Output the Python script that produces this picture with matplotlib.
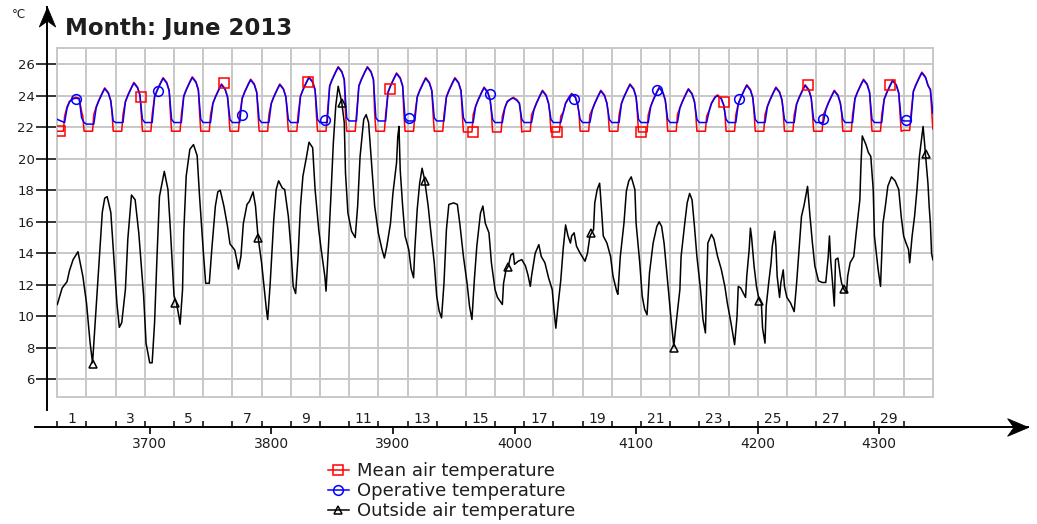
import matplotlib
matplotlib.use("Agg")
import matplotlib.pyplot as plt
import numpy as np
from matplotlib.lines import Line2D
from matplotlib.path import Path
from matplotlib.ticker import NullFormatter

plt.rcParams["font.family"] = ["DejaVu Sans"]

START_HOUR = 3624          # 1 June 2013 00:00 as hour of the year
N_DAYS = 30

# ---- indoor series, one row per day, values at fixed hours of the day ----
OPER_HOD = [0, 6, 8, 10, 13, 15, 18, 20, 22]
OPER_DAYS = [
    [22.5, 22.3, 23.2, 23.6, 23.8, 23.85, 23.8, 22.6, 22.3],
    [22.2, 22.2, 23.25, 23.65, 24.15, 24.45, 24.15, 23.65, 22.4],
    [22.3, 22.3, 23.6, 24.0, 24.5, 24.8, 24.5, 24.0, 22.5],
    [22.3, 22.3, 23.9, 24.3, 24.8, 25.1, 24.8, 24.3, 22.5],
    [22.3, 22.3, 23.95, 24.35, 24.85, 25.15, 24.85, 24.35, 22.5],
    [22.3, 22.3, 23.5, 23.9, 24.4, 24.7, 24.4, 23.9, 22.5],
    [22.3, 22.3, 23.8, 24.2, 24.7, 25.0, 24.7, 24.2, 22.5],
    [22.3, 22.3, 23.5, 23.9, 24.4, 24.7, 24.4, 23.9, 22.5],
    [22.3, 22.3, 23.95, 24.35, 24.85, 25.15, 24.85, 24.35, 22.5],
    [22.3, 22.3, 24.6, 25.0, 25.5, 25.8, 25.5, 25.0, 22.6],
    [22.4, 22.4, 24.6, 25.0, 25.5, 25.8, 25.5, 25.0, 22.6],
    [22.4, 22.4, 24.2, 24.6, 25.1, 25.4, 25.1, 24.6, 22.6],
    [22.4, 22.4, 23.9, 24.3, 24.8, 25.1, 24.8, 24.3, 22.6],
    [22.4, 22.4, 23.9, 24.3, 24.8, 25.1, 24.8, 24.3, 22.6],
    [22.3, 22.3, 23.3, 23.7, 24.2, 24.5, 24.2, 23.7, 22.5],
    [22.3, 22.3, 23.2, 23.6, 23.8, 23.85, 23.7, 23.5, 22.5],
    [22.3, 22.3, 23.1, 23.5, 24.0, 24.3, 24.0, 23.5, 22.5],
    [22.3, 22.3, 22.9, 23.5, 23.9, 24.1, 23.9, 23.4, 22.5],
    [22.3, 22.3, 23.1, 23.5, 24.0, 24.3, 24.0, 23.5, 22.5],
    [22.3, 22.3, 23.5, 23.9, 24.4, 24.7, 24.4, 23.9, 22.5],
    [22.3, 22.3, 23.3, 23.7, 24.2, 24.5, 24.2, 23.7, 22.5],
    [22.3, 22.3, 23.2, 23.6, 24.1, 24.4, 24.1, 23.6, 22.5],
    [22.3, 22.3, 23.0, 23.5, 23.9, 24.0, 23.8, 23.4, 22.5],
    [22.3, 22.3, 23.45, 23.85, 24.35, 24.65, 24.35, 23.85, 22.5],
    [22.3, 22.3, 23.3, 23.7, 24.2, 24.5, 24.2, 23.7, 22.5],
    [22.3, 22.3, 23.45, 23.85, 24.35, 24.65, 24.35, 23.85, 22.5],
    [22.3, 22.3, 23.1, 23.5, 24.0, 24.3, 24.0, 23.5, 22.5],
    [22.3, 22.3, 23.8, 24.2, 24.7, 25.0, 24.7, 24.2, 22.5],
    [22.3, 22.3, 23.75, 24.15, 24.65, 24.95, 24.65, 24.15, 22.5],
    [22.4, 22.4, 24.25, 24.65, 25.15, 25.45, 25.15, 24.65, 24.4],
]
OPER_END = 22.9

MEAN_HOD = [0, 5, 6, 8, 10, 13, 15, 18, 20, 21, 22]
MEAN_DAYS = [
    [21.75, 21.75, 22.7, 23.3, 23.65, 23.85, 23.9, 23.85, 23.0, 22.7, 21.75],
    [21.75, 21.75, 22.8, 23.3, 23.7, 24.2, 24.5, 24.2, 23.7, 22.9, 21.75],
    [21.75, 21.75, 22.8, 23.65, 24.05, 24.55, 24.85, 24.55, 24.05, 22.9, 21.75],
    [21.75, 21.75, 22.8, 23.95, 24.35, 24.85, 25.15, 24.85, 24.35, 22.9, 21.75],
    [21.75, 21.75, 22.8, 24.0, 24.4, 24.9, 25.2, 24.9, 24.4, 22.9, 21.75],
    [21.75, 21.75, 22.8, 23.55, 23.95, 24.45, 24.75, 24.45, 23.95, 22.9, 21.75],
    [21.75, 21.75, 22.8, 23.85, 24.25, 24.75, 25.05, 24.75, 24.25, 22.9, 21.75],
    [21.75, 21.75, 22.8, 23.55, 23.95, 24.45, 24.75, 24.45, 23.95, 22.9, 21.75],
    [21.75, 21.75, 22.8, 24.0, 24.4, 24.9, 25.2, 24.9, 24.4, 22.9, 21.75],
    [21.75, 21.75, 22.8, 24.65, 25.05, 25.55, 25.85, 25.55, 25.05, 22.9, 21.75],
    [21.75, 21.75, 22.8, 24.65, 25.05, 25.55, 25.85, 25.55, 25.05, 22.9, 21.75],
    [21.75, 21.75, 22.8, 24.25, 24.65, 25.15, 25.45, 25.15, 24.65, 22.9, 21.75],
    [21.75, 21.75, 22.8, 23.95, 24.35, 24.85, 25.15, 24.85, 24.35, 22.9, 21.75],
    [21.75, 21.75, 22.8, 23.95, 24.35, 24.85, 25.15, 24.85, 24.35, 22.9, 21.7],
    [21.7, 21.7, 22.8, 23.35, 23.75, 24.25, 24.55, 24.25, 23.75, 22.9, 21.7],
    [21.7, 21.7, 22.7, 23.25, 23.65, 23.8, 23.9, 23.75, 23.55, 22.9, 21.7],
    [21.75, 21.75, 22.8, 23.15, 23.55, 24.05, 24.35, 24.05, 23.55, 22.9, 21.7],
    [21.7, 21.7, 22.7, 22.95, 23.55, 23.95, 24.15, 23.95, 23.45, 22.9, 21.75],
    [21.75, 21.75, 22.8, 23.15, 23.55, 24.05, 24.35, 24.05, 23.55, 22.9, 21.75],
    [21.75, 21.75, 22.8, 23.55, 23.95, 24.45, 24.75, 24.45, 23.95, 22.9, 21.7],
    [21.7, 21.7, 22.8, 23.35, 23.75, 24.25, 24.55, 24.25, 23.75, 22.9, 21.75],
    [21.75, 21.75, 22.8, 23.25, 23.65, 24.15, 24.45, 24.15, 23.65, 22.9, 21.75],
    [21.75, 21.75, 22.7, 23.05, 23.55, 23.95, 24.05, 23.85, 23.45, 22.9, 21.75],
    [21.75, 21.75, 22.8, 23.5, 23.9, 24.4, 24.7, 24.4, 23.9, 22.9, 21.75],
    [21.75, 21.75, 22.8, 23.35, 23.75, 24.25, 24.55, 24.25, 23.75, 22.9, 21.75],
    [21.75, 21.75, 22.8, 23.5, 23.9, 24.4, 24.7, 24.4, 23.9, 22.9, 21.75],
    [21.75, 21.75, 22.8, 23.15, 23.55, 24.05, 24.35, 24.05, 23.55, 22.9, 21.75],
    [21.75, 21.75, 22.8, 23.85, 24.25, 24.75, 25.05, 24.75, 24.25, 22.9, 21.75],
    [21.75, 21.75, 22.8, 23.8, 24.2, 24.7, 25.0, 24.7, 24.2, 22.9, 21.75],
    [21.8, 21.8, 22.8, 24.3, 24.7, 25.2, 25.5, 25.2, 24.7, 24.5, 24.4],
]
MEAN_END = 21.9

# ---- outside air temperature, hours since START_HOUR -------------------
OUT_H = [
    0, 4, 8, 10, 13, 17, 21, 24, 27, 29, 32, 35, 37, 39, 41, 44, 47, 49, 51, 53,
    56, 58, 61, 64, 67, 71, 73, 76, 78, 80, 82, 84, 88, 91, 93, 96, 98, 100, 101,
    103, 104, 106, 109, 112, 115, 117, 120, 122, 125, 127, 130, 132, 134, 137,
    140, 142, 146, 149, 151, 153, 156, 158, 161, 163, 165, 168, 170, 172, 173,
    175, 178, 180, 182, 185, 187, 190, 192, 194, 196, 198, 200, 202, 205, 207,
    210, 212, 215, 217, 220, 221, 223, 225, 227, 229, 231, 234, 236, 237, 239,
    242, 245, 247, 249, 252, 254, 256, 259, 261, 264, 267, 269, 271, 274, 276,
    279, 280, 281, 282, 284, 286, 289, 291, 293, 294, 296, 298, 300, 302, 305,
    307, 310, 312, 314, 316, 318, 320, 322, 326, 329, 331, 334, 337, 339, 341,
    343, 345, 348, 350, 352, 355, 357, 360,
    362, 366, 367, 369, 371, 373, 375, 376, 379, 382, 385, 387, 389, 390, 393,
    396, 398, 401, 404, 407, 409, 410, 412, 414, 416, 418, 420, 422, 423, 425,
    427, 430, 434, 436, 438, 441, 442, 444, 446, 447, 449, 452, 455, 457, 460,
    461, 463, 466, 468, 470, 472, 475, 476, 479, 481, 483, 485, 487, 490, 493,
    495, 497, 499, 501, 503, 505, 507, 509, 512, 513, 516, 518, 520, 522, 524,
    526, 529, 531, 533, 534, 535, 538,
    540, 543, 546, 549, 551, 554, 557, 559, 560, 562, 564, 566, 567, 569, 570,
    571, 573, 575, 577, 579, 580, 582, 583, 585, 587, 588, 590, 591, 592, 594,
    595, 597, 598, 600, 603, 606, 608, 610, 612, 614, 617, 619, 621, 623, 626,
    629, 632, 634, 635, 636, 638, 639, 640, 642, 644, 645, 647, 649, 650, 652,
    655, 657, 660, 661, 662, 665, 667, 669, 671, 672, 675, 677, 679, 681, 683,
    686, 689, 692, 694, 696, 698, 700, 701, 703, 705, 707, 709, 712, 713, 714,
    716, 717, 718, 719, 720,
]
OUT_T = [
    10.75, 11.8, 12.2, 12.9, 13.6, 14.1, 12.55, 10.85, 8.3, 7.05, 10.65, 14.2,
    16.6, 17.5, 17.6, 16.6, 13.2, 10.85, 9.3, 9.6, 11.7, 14.9, 17.7, 17.4, 15.3,
    11.3, 8.3, 7.05, 7.05, 9.6, 13.8, 17.6, 19.2, 18.05, 15.5, 11.3, 10.85, 10.0,
    9.5, 11.7, 15.3, 18.9, 20.6, 20.9, 20.2, 17.6, 14.2, 12.1, 12.1, 14.2, 17.0,
    17.9, 18.0, 17.0, 15.7, 14.6, 14.2, 13.0, 13.8, 15.9, 17.1, 17.3, 17.9, 17.0,
    15.1, 13.4, 11.9, 10.4, 9.8,
    12.0, 16.1, 18.05, 18.6, 18.15, 18.05, 16.35, 14.45, 11.9, 11.45, 13.8, 17.0,
    18.9, 20.15, 21.05, 20.7, 18.05, 15.5, 14.25, 12.55, 11.6, 14.45, 17.6, 21.0,
    23.35, 24.6, 23.55, 22.3, 19.1, 16.55, 15.4, 15.0, 17.0, 20.15, 22.5, 22.8,
    22.3, 19.1, 17.0, 15.3, 14.25, 13.7, 14.45, 15.9, 17.8, 19.75, 21.4, 22.05,
    19.3, 17.0, 15.1, 14.25, 13.0, 12.45, 14.25, 16.8, 18.45, 19.4, 18.7, 17.0,
    15.5, 13.4, 11.3, 10.35, 9.9, 12.1, 15.5, 17.1, 17.2, 17.1, 15.9, 13.8, 12.1,
    10.65, 9.8, 12.35, 14.45, 16.55, 17.0, 15.9, 15.3, 13.4, 11.7,
    11.2, 10.75, 12.1, 12.95, 13.2, 13.9, 14.0, 13.3, 13.5, 13.6, 13.2, 12.65,
    11.9, 12.55, 14.0, 14.55, 13.8, 13.4, 12.45, 11.7, 10.0, 9.25, 10.85, 12.25,
    14.25, 15.8, 15.1, 14.65, 15.1, 15.3, 14.45, 14.0, 13.5, 14.0, 15.1, 15.5,
    17.2, 18.05, 18.45, 17.4, 15.1, 14.65, 13.8, 12.55, 11.6, 11.4, 13.8, 15.9,
    17.95, 18.6, 18.85, 18.05, 15.9, 13.4, 11.3, 10.45, 10.1, 12.75, 14.65, 15.7,
    16.0, 15.7, 14.65, 13.0, 11.3, 9.6, 8.1, 9.6, 11.7, 13.8, 15.9, 17.2, 17.8,
    17.4, 15.7, 13.8, 11.7, 9.8, 8.95, 11.7, 14.65, 15.2,
    14.9, 13.8, 13.0, 11.9, 10.85, 9.6, 8.2, 10.0, 11.9, 11.8, 11.5, 11.2, 12.55,
    14.25, 15.6, 15.0, 13.2, 11.9, 11.1, 10.85, 9.25, 8.3, 10.65, 12.1, 13.4,
    14.45, 15.4, 14.45, 12.55, 11.2, 12.1, 12.95, 11.9, 11.2, 10.85, 10.3, 12.1,
    14.25, 16.35, 17.0, 18.25, 16.35, 14.65, 13.2, 12.25, 12.15, 12.15, 13.8,
    15.1, 13.6, 11.7, 10.65, 13.6, 13.7, 12.55, 12.1, 11.7, 11.5, 12.55, 13.4,
    13.8, 15.3, 17.4, 19.75, 21.45, 20.9, 20.4, 20.15, 18.05, 15.1, 13.0, 11.9,
    15.9, 17.0, 18.25, 18.85, 18.6, 18.05, 16.35, 15.1, 14.65, 14.25, 13.4, 15.1,
    16.35, 18.05, 20.15, 22.05, 21.2, 20.25, 18.45, 17.0, 15.9, 14.0, 13.6,
]

# ---- sparse marker samples (hours since START_HOUR, value) --------------
MEAN_MARK_H = [2, 69, 137, 206, 274, 342, 411, 480, 548, 617, 685]
MEAN_MARK_T = [21.75, 23.95, 24.8, 24.85, 24.4, 21.7, 21.7, 21.7, 23.6, 24.7, 24.7]
OPER_MARK_H = [15, 83, 152, 220, 289, 356, 425, 493, 561, 630, 698]
OPER_MARK_T = [23.8, 24.3, 22.8, 22.45, 22.6, 24.1, 23.8, 24.37, 23.8, 22.5, 22.45]
OUT_MARK_H = [29, 97, 165, 234, 302, 371, 439, 507, 577, 647, 714]
OUT_MARK_T = [7.0, 10.85, 15.0, 23.55, 18.6, 13.15, 15.3, 8.0, 11.0, 11.75, 20.3]

LABELS = ["Mean air temperature", "Operative temperature", "Outside air temperature"]
HOUR_TICKS = [3700, 3800, 3900, 4000, 4100, 4200, 4300]
TEXT_COLOR = "#1e1e1e"


def daily_series(hod, rows, end_value):
    h = [24 * d + x for d, row in enumerate(rows) for x in hod] + [24 * len(rows)]
    t = [v for row in rows for v in row] + [end_value]
    return START_HOUR + np.array(h), np.array(t)


W, H = 1037, 524
fig = plt.figure(figsize=(W / 100, H / 100), dpi=100)
ax = fig.add_axes([57.3 / W, 127.3 / H, 875.5 / W, 348.7 / H])

mean_h, mean_t = daily_series(MEAN_HOD, MEAN_DAYS, MEAN_END)
oper_h, oper_t = daily_series(OPER_HOD, OPER_DAYS, OPER_END)
out_h = START_HOUR + np.array(OUT_H)

lw = 1.1
l_mean, = ax.plot(mean_h, mean_t, color="#ff0000", lw=lw, zorder=3)
l_oper, = ax.plot(oper_h, oper_t, color="#0000ff", lw=lw, zorder=4)
l_out, = ax.plot(out_h, OUT_T, color="black", lw=lw, zorder=3)

mk = dict(ls="none", mfc="none", mew=1.1, zorder=5)
m_mean, = ax.plot(START_HOUR + np.array(MEAN_MARK_H), MEAN_MARK_T, marker="s",
                  ms=7, mec="#ff0000", **mk)
m_oper, = ax.plot(START_HOUR + np.array(OPER_MARK_H), OPER_MARK_T, marker="o",
                  ms=7, mec="#0000ff", **mk)
m_out, = ax.plot(START_HOUR + np.array(OUT_MARK_H), OUT_MARK_T, marker="^",
                 ms=6, mec="black", **mk)

# plot box and grid
day_edges = START_HOUR + 24 * np.arange(N_DAYS + 1)
ax.set_xlim(day_edges[0], day_edges[-1])
ax.set_ylim(4.9, 27.03)
ax.set_xticks(day_edges)
ax.set_yticks(range(6, 27, 2))
ax.tick_params(axis="x", bottom=False, labelbottom=False)
ax.tick_params(axis="y", direction="out", length=15, width=1.1, color="black",
               pad=1.5, labelsize=9.5, labelcolor=TEXT_COLOR)
ax.grid(True, color="#c8c8c8", lw=1.4)
ax.set_axisbelow(True)
for sp in ax.spines.values():
    sp.set_color("#c8c8c8")
    sp.set_linewidth(1.4)

# detached x axis: hour ticks below, day numbers above
loc = -(427 - 396.7) / 348.7
sec_h = ax.secondary_xaxis(loc)
sec_h.set_xticks(HOUR_TICKS)
sec_h.tick_params(direction="out", length=5, width=1.2, color="black",
                  labelsize=10, pad=2, labelcolor=TEXT_COLOR)
sec_d = ax.secondary_xaxis(loc)
sec_d.set_alignment("top")
sec_d.set_xticks(day_edges[:-1])
sec_d.xaxis.set_major_formatter(NullFormatter())
odd_days = list(range(1, N_DAYS + 1, 2))
sec_d.set_xticks([START_HOUR + 24 * (d - 1) + 12 for d in odd_days],
                 labels=[str(d) for d in odd_days], minor=True)
sec_d.tick_params(which="major", direction="out", length=4, width=1.1, color="black")
sec_d.tick_params(which="minor", length=0, labelsize=10, pad=1, labelcolor=TEXT_COLOR)
for sec in (sec_h, sec_d):
    for sp in sec.spines.values():
        sp.set_visible(False)

# axis lines with notched arrow heads
C = Path.CLOSEPOLY
head_right = Path([(0, 0), (-1, 0.42), (-0.7, 0), (-1, -0.42), (0, 0)],
                  [Path.MOVETO, Path.LINETO, Path.LINETO, Path.LINETO, C])
head_up = Path([(0, 0), (0.42, -1), (0, -0.7), (-0.42, -1), (0, 0)],
               [Path.MOVETO, Path.LINETO, Path.LINETO, Path.LINETO, C])
fig.add_artist(Line2D([35 / W, 1028 / W], [1 - 427 / H] * 2, transform=fig.transFigure,
                      color="black", lw=1.4, marker=head_right, markevery=[1],
                      ms=30, mfc="black", mec="black", mew=0.6))
fig.add_artist(Line2D([47 / W, 47 / W], [1 - 410 / H, 1 - 7 / H], transform=fig.transFigure,
                      color="black", lw=1.4, marker=head_up, markevery=[1],
                      ms=28, mfc="black", mec="black", mew=0.6))

fig.text(12 / W, 1 - 15 / H, "°C", fontsize=8.5, va="center", ha="left",
         color=TEXT_COLOR)
fig.text(65 / W, 1 - 28 / H, "Month: June 2013", fontsize=16.5, fontweight="bold",
         va="center", ha="left", color=TEXT_COLOR)

fig.legend(handles=[(l_mean, m_mean), (l_oper, m_oper), (l_out, m_out)],
           labels=LABELS, loc="upper left", bbox_to_anchor=(328 / W, 1 - 462 / H),
           frameon=False, fontsize=13, handlelength=1.15, handletextpad=0.45,
           labelspacing=0.12, borderpad=0, borderaxespad=0, numpoints=1,
           labelcolor=TEXT_COLOR)

fig.savefig("out.png", dpi=100)
